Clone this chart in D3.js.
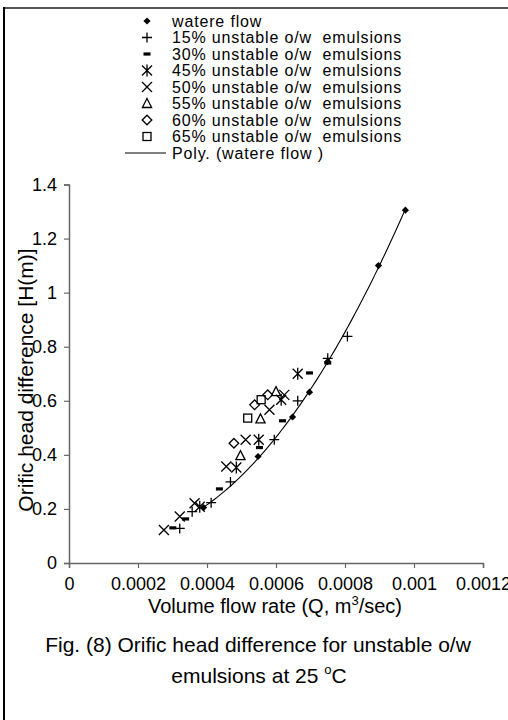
<!DOCTYPE html>
<html>
<head>
<meta charset="UTF-8">
<title>Orific head difference - unstable o/w emulsions</title>
<style>
  body { margin: 0; background: #fff; }
  text { font-family: "Liberation Sans", Arial, sans-serif; fill: #000; }
</style>
</head>
<body>
<script src="https://d3js.org/d3.v7.min.js"></script>
<script>
// values: Q in m3/sec, H in m
var waterQ = [0.00039, 0.000548, 0.000648, 0.000697, 0.00075, 0.000897, 0.000975];
var waterH = [0.205, 0.394, 0.54, 0.632, 0.745, 1.10, 1.305];

var e15Q = [0.000321, 0.000357, 0.000412, 0.000468, 0.000595, 0.000663, 0.00075, 0.000807];
var e15H = [0.128, 0.19, 0.223, 0.30, 0.456, 0.60, 0.757, 0.838];

var e30Q = [0.000301, 0.000338, 0.000436, 0.000552, 0.000619, 0.000697, 0.00075];
var e30H = [0.13, 0.163, 0.274, 0.427, 0.526, 0.703, 0.74];

var e45Q = [0.000379, 0.000485, 0.00055, 0.000615, 0.000663];
var e45H = [0.208, 0.353, 0.456, 0.604, 0.70];

var e50Q = [0.000275, 0.000321, 0.000364, 0.000456, 0.000512, 0.000581, 0.000624];
var e50H = [0.122, 0.172, 0.221, 0.357, 0.456, 0.567, 0.622];

var e55Q = [0.000497, 0.000555, 0.0006];
var e55H = [0.397, 0.533, 0.634];

var e60Q = [0.000478, 0.000538, 0.000576];
var e60H = [0.443, 0.585, 0.622];

var e65Q = [0.000518, 0.000557];
var e65H = [0.536, 0.604];

var legendLabels = ["watere flow", "15% unstable o/w  emulsions", "30% unstable o/w  emulsions",
  "45% unstable o/w  emulsions", "50% unstable o/w  emulsions", "55% unstable o/w  emulsions",
  "60% unstable o/w  emulsions", "65% unstable o/w  emulsions", "Poly. (watere flow )"];
var xTicks = [0, 0.0002, 0.0004, 0.0006, 0.0008, 0.001, 0.0012];
var xTickLabels = ["0", "0.0002", "0.0004", "0.0006", "0.0008", "0.001", "0.0012"];
var yTicks = [0, 0.2, 0.4, 0.6, 0.8, 1, 1.2, 1.4];
var yTickLabels = ["0", "0.2", "0.4", "0.6", "0.8", "1", "1.2", "1.4"];

var series = [
  { q: waterQ, h: waterH, sym: "diamondFill" },
  { q: e15Q, h: e15H, sym: "plus" },
  { q: e30Q, h: e30H, sym: "dash" },
  { q: e45Q, h: e45H, sym: "star" },
  { q: e50Q, h: e50H, sym: "cross" },
  { q: e55Q, h: e55H, sym: "triangle" },
  { q: e60Q, h: e60H, sym: "diamond" },
  { q: e65Q, h: e65H, sym: "square" }
];

var width = 508, height = 720;
var svg = d3.select("body").append("svg")
  .attr("width", width)
  .attr("height", height);

// figure frame
svg.append("line").attr("x1", 4).attr("x2", width).attr("y1", 8).attr("y2", 8)
  .attr("stroke", "#555").attr("stroke-width", 2);
svg.append("line").attr("x1", 4).attr("x2", 4).attr("y1", 7).attr("y2", height)
  .attr("stroke", "#000").attr("stroke-width", 2);

//scales
var x = d3.scaleLinear().domain([0, 0.0012]).range([69, 483]);
var y = d3.scaleLinear().domain([0, 1.4]).range([563, 184.5]);

// marker shapes
function marker(g, sym) {
  var r = 5;
  if (sym == "diamondFill") {
    g.append("path").attr("d", "M0,-3.6L3.6,0L0,3.6L-3.6,0Z").attr("fill", "#000");
  } else if (sym == "plus") {
    g.append("path").attr("d", `M${-r},0H${r}M0,${-r}V${r}`).attr("stroke", "#000").attr("stroke-width", 1.3);
  } else if (sym == "dash") {
    g.append("rect").attr("x", -3.5).attr("y", -1.6).attr("width", 7).attr("height", 3.2).attr("fill", "#000");
  } else if (sym == "star") {
    g.append("path").attr("d", `M${-r},${-r}L${r},${r}M${r},${-r}L${-r},${r}M0,${-r - 1}V${r + 1}`)
      .attr("stroke", "#000").attr("stroke-width", 1.3);
  } else if (sym == "cross") {
    g.append("path").attr("d", `M${-r},${-r}L${r},${r}M${r},${-r}L${-r},${r}`)
      .attr("stroke", "#000").attr("stroke-width", 1.3);
  } else if (sym == "triangle") {
    g.append("path").attr("d", "M0,-5L4.6,4L-4.6,4Z").attr("fill", "none")
      .attr("stroke", "#000").attr("stroke-width", 1.3);
  } else if (sym == "diamond") {
    g.append("path").attr("d", "M0,-4.8L4.8,0L0,4.8L-4.8,0Z").attr("fill", "none")
      .attr("stroke", "#000").attr("stroke-width", 1.3);
  } else if (sym == "square") {
    g.append("rect").attr("x", -4).attr("y", -4).attr("width", 8).attr("height", 8)
      .attr("fill", "none").attr("stroke", "#000").attr("stroke-width", 1.3);
  }
}

// axes
var xAxis = d3.axisBottom(x).tickValues(xTicks).tickSize(5).tickFormat((d, i) => xTickLabels[i]);
var gx = svg.append("g").attr("transform", "translate(0,563)").call(xAxis);
var yAxis = d3.axisLeft(y).tickValues(yTicks).tickSize(5).tickFormat((d, i) => yTickLabels[i]);
var gy = svg.append("g").attr("transform", "translate(69,0)").call(yAxis);
[gx, gy].forEach(g => {
  g.select(".domain").attr("stroke", "#666").attr("stroke-width", 1.5);
  g.selectAll(".tick line").attr("stroke", "#666").attr("stroke-width", 1.2);
  g.selectAll(".tick text").style("font-size", "18px").attr("fill", "#000");
});
gx.selectAll(".tick text").attr("y", 14).attr("dy", "0.71em");
gy.selectAll(".tick text").attr("x", -12);

// poly trendline (2nd order least squares on water flow)
function polyFit(xs, ys) {
  var n = xs.length, s = [0, 0, 0, 0, 0], t = [0, 0, 0];
  for (var i = 0; i < n; i++) {
    var p = 1;
    for (var k = 0; k < 5; k++) { s[k] += p; if (k < 3) t[k] += p * ys[i]; p *= xs[i]; }
  }
  var m = [[s[0], s[1], s[2], t[0]], [s[1], s[2], s[3], t[1]], [s[2], s[3], s[4], t[2]]];
  for (var c = 0; c < 3; c++) {
    for (var r = c + 1; r < 3; r++) {
      var f = m[r][c] / m[c][c];
      for (var j = c; j < 4; j++) m[r][j] -= f * m[c][j];
    }
  }
  var a = [0, 0, 0];
  for (var c2 = 2; c2 >= 0; c2--) {
    var v = m[c2][3];
    for (var j2 = c2 + 1; j2 < 3; j2++) v -= m[c2][j2] * a[j2];
    a[c2] = v / m[c2][c2];
  }
  return a;
}
var coef = polyFit(waterQ, waterH);
var qMin = d3.min(waterQ), qMax = d3.max(waterQ);
var curve = d3.range(0, 61).map(i => qMin + (qMax - qMin) * i / 60);
svg.append("path")
  .datum(curve)
  .attr("fill", "none").attr("stroke", "#000").attr("stroke-width", 1.1)
  .attr("d", d3.line().x(d => x(d)).y(d => y(coef[0] + coef[1] * d + coef[2] * d * d)));

// points
series.forEach(s => {
  s.q.forEach((q, i) => {
    var g = svg.append("g").attr("transform", `translate(${x(q)},${y(s.h[i])})`);
    marker(g, s.sym);
  });
});

// legend
var legend = svg.append("g");
legendLabels.forEach((lab, i) => {
  var cy = 21 + i * 16.5;
  if (i < 8) {
    marker(legend.append("g").attr("transform", `translate(147,${cy})`), series[i].sym);
  } else {
    legend.append("line").attr("x1", 125).attr("x2", 166).attr("y1", cy).attr("y2", cy)
      .attr("stroke", "#000").attr("stroke-width", 1.1);
  }
  legend.append("text").attr("x", 172).attr("y", cy + 5.5)
    .style("font-size", "16px").style("letter-spacing", "0.85px").style("white-space", "pre")
    .text(lab);
});

// axis titles
var xt = svg.append("text").attr("x", 275).attr("y", 613).attr("text-anchor", "middle").style("font-size", "20px");
xt.append("tspan").text("Volume flow rate (Q, m");
xt.append("tspan").attr("dy", -8).style("font-size", "13px").text("3");
xt.append("tspan").attr("dy", 8).text("/sec)");

svg.append("text").attr("transform", "translate(33,380) rotate(-90)")
  .attr("text-anchor", "middle").style("font-size", "21px")
  .text("Orific head difference [H(m)]");

// caption
svg.append("text").attr("x", 258).attr("y", 652).attr("text-anchor", "middle").style("font-size", "21px")
  .text("Fig. (8) Orific head difference for unstable o/w");
var cap2 = svg.append("text").attr("x", 259).attr("y", 683).attr("text-anchor", "middle").style("font-size", "21px");
cap2.append("tspan").text("emulsions at 25 ");
cap2.append("tspan").attr("dy", -9).style("font-size", "13px").text("o");
cap2.append("tspan").attr("dy", 9).text("C");
</script>
</body>
</html>
